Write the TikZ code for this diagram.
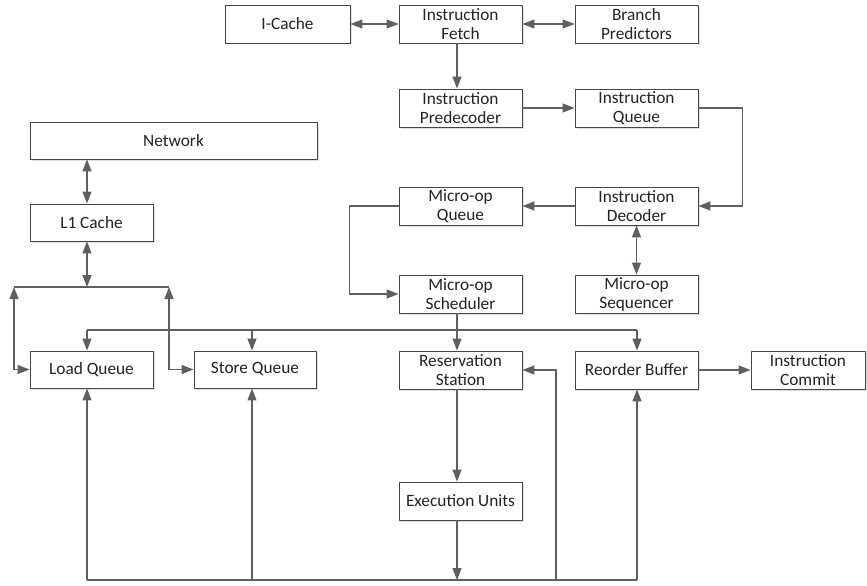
\documentclass[tikz,border=0pt]{standalone}
\usepackage{fontspec}
\setmainfont{Carlito}
\usetikzlibrary{arrows.meta,shadows}
\definecolor{linegray}{RGB}{95,95,95}
\definecolor{boxgray}{RGB}{70,70,70}
\definecolor{txt}{RGB}{35,35,35}
\begin{document}
\begin{tikzpicture}[x=1pt,y=-1pt,
  blk/.style={draw=boxgray, line width=0.9pt, fill=white, inner sep=0pt,
    minimum height=38pt, minimum width=123pt, align=center, text=txt,
    font=\fontsize{17.3}{19}\selectfont,
    drop shadow={shadow xshift=1.5pt, shadow yshift=-1.5pt, fill=black, opacity=0.12}},
  conn/.style={draw=linegray, line width=1.4pt},
  arr/.style={conn, -{Triangle[length=12pt,width=9pt]}},
  darr/.style={conn, {Triangle[length=12pt,width=9pt]}-{Triangle[length=12pt,width=9pt]}}]
\useasboundingbox (0,0) rectangle (867,586);

% nodes
\node[blk, minimum width=125pt] (icache) at (287.5,24) {I-Cache};
\node[blk] (fetch) at (460.5,24) {Instruction\\Fetch};
\node[blk] (branch) at (636.5,24) {Branch\\Predictors};
\node[blk] (predec) at (460.5,108) {Instruction\\Predecoder};
\node[blk] (iqueue) at (636.5,108) {Instruction\\Queue};
\node[blk, minimum width=287pt, minimum height=37pt] (network) at (173.5,140.5) {Network};
\node[blk, minimum height=37pt] (l1) at (91.5,222.5) {L1 Cache};
\node[blk] (uqueue) at (460.5,206) {Micro-op\\Queue};
\node[blk] (decoder) at (636.5,206) {Instruction\\Decoder};
\node[blk] (sched) at (460.5,294) {Micro-op\\Scheduler};
\node[blk] (seq) at (636.5,294) {Micro-op\\Sequencer};
\node[blk, minimum height=37pt] (loadq) at (91.5,369.5) {Load Queue};
\node[blk, minimum width=122pt, minimum height=37pt] (storeq) at (255,369.5) {Store Queue};
\node[blk] (rs) at (460.5,370) {Reservation\\Station};
\node[blk] (rob) at (636.5,370) {Reorder Buffer};
\node[blk, minimum width=114pt] (commit) at (808,370) {Instruction\\Commit};
\node[blk] (exec) at (460.5,501) {Execution Units};

% coordinates
\coordinate (busL) at (14,287);
\coordinate (busM) at (87,287);
\coordinate (busR) at (169,287);
\coordinate (dA) at (87,330);
\coordinate (dS) at (252,330);
\coordinate (dB) at (637,330);
\coordinate (bA) at (87,580);
\coordinate (bS) at (252,580);
\coordinate (bX) at (457,580);
\coordinate (bF) at (556,580);
\coordinate (bB) at (637,580);

% front end
\draw[darr] (icache.east) -- (fetch.west);
\draw[darr] (fetch.east) -- (branch.west);
\draw[arr] ([xshift=-3.5pt]fetch.south) -- ([xshift=-3.5pt]predec.north);
\draw[arr] (predec.east) -- (iqueue.west);
\draw[arr] (iqueue.east) -- ++(44,0) |- (decoder.east);
\draw[arr] (decoder.west) -- (uqueue.east);
\draw[arr] (uqueue.west) -- ++(-49,0) |- (sched.west);
\draw[darr] (decoder.south -| seq.north) -- (seq.north);

% memory side
\draw[darr] (network.south -| busM) -- (l1.north -| busM);
\draw[darr] (l1.south -| busM) -- (busM);
\draw[conn] (busL) -- (busR);
\draw[darr] (busL) |- (loadq.west);
\draw[darr] (busR) |- (storeq.west);

% dispatch bus
\draw[conn] (dA) -- (dB);
\draw[arr] ([xshift=-3.5pt]sched.south) -- ([xshift=-3.5pt]rs.north);
\draw[arr] (dA) -- (dA |- loadq.north);
\draw[arr] (dS) -- (dS |- storeq.north);
\draw[arr] (dB) -- (dB |- rob.north);

\draw[arr] (rob.east) -- (commit.west);

% execution and writeback
\draw[arr] ([xshift=-3.5pt]rs.south) -- ([xshift=-3.5pt]exec.north);
\draw[arr] ([xshift=-3.5pt]exec.south) -- (bX);
\draw[conn] (bA) -- (bB);
\draw[arr] (bA) -- (bA |- loadq.south);
\draw[arr] (bS) -- (bS |- storeq.south);
\draw[arr] (bB) -- (bB |- rob.south);
\draw[arr] (bF) |- (rs.east);
\end{tikzpicture}
\end{document}
